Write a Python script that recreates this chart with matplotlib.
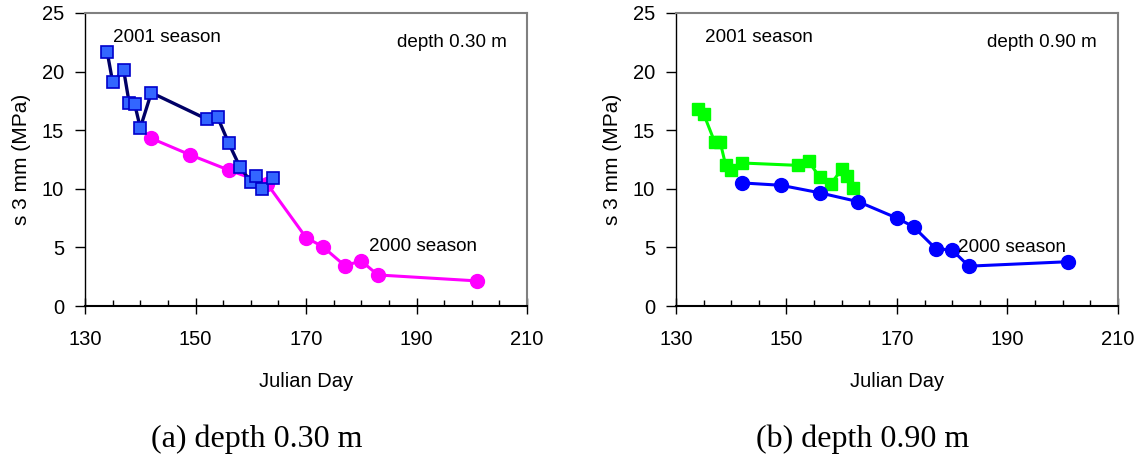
import matplotlib
matplotlib.use("Agg")
import matplotlib.pyplot as plt
from matplotlib.ticker import MultipleLocator

plt.rcParams['font.family'] = ['Liberation Sans', 'DejaVu Sans']

# depth 0.30 m
day_01_a = [134, 135, 137, 138, 139, 140, 142, 152, 154, 156, 158, 160, 161, 162, 164]
val_01_a = [21.7, 19.1, 20.1, 17.3, 17.2, 15.2, 18.2, 15.95, 16.1, 13.9, 11.9, 10.6, 11.1, 10.0, 10.9]
day_00_a = [142, 149, 156, 163, 170, 173, 177, 180, 183, 201]
val_00_a = [14.3, 12.9, 11.6, 10.4, 5.84, 5.07, 3.45, 3.84, 2.65, 2.14]

# depth 0.90 m
day_01_b = [134, 135, 137, 138, 139, 140, 142, 152, 154, 156, 158, 160, 161, 162]
val_01_b = [16.8, 16.4, 14.0, 14.0, 12.0, 11.6, 12.2, 12.0, 12.35, 11.0, 10.4, 11.65, 11.1, 10.1]
day_00_b = [142, 149, 156, 163, 170, 173, 177, 180, 183, 201]
val_00_b = [10.5, 10.3, 9.66, 8.9, 7.5, 6.76, 4.9, 4.77, 3.4, 3.78]

x_ticks = [130, 150, 170, 190, 210]

fig = plt.figure(figsize=(11.43, 4.57), dpi=100)
ax1 = fig.add_axes([0.0744, 0.3304, 0.3867, 0.6412])
ax2 = fig.add_axes([0.5914, 0.3304, 0.3867, 0.6412])


def style(ax):
    ax.set_xlim(130, 210)
    ax.set_ylim(0, 25)
    ax.set_xticks(x_ticks)
    ax.xaxis.set_minor_locator(MultipleLocator(5))
    ax.yaxis.set_major_locator(MultipleLocator(5))
    ax.tick_params(axis='x', which='major', direction='inout', length=11, width=1, labelsize=14.5, pad=12)
    ax.tick_params(axis='x', which='minor', direction='in', length=4, width=1)
    ax.tick_params(axis='y', which='major', direction='out', length=7, width=1, labelsize=14.5, pad=8)
    ax.spines['top'].set_color('#808080')
    ax.spines['right'].set_color('#808080')
    ax.spines['top'].set_linewidth(1.5)
    ax.spines['right'].set_linewidth(1.5)
    ax.spines['left'].set_linewidth(1)
    ax.spines['bottom'].set_linewidth(1.5)
    ax.set_xlabel('Julian Day', fontsize=14.5, labelpad=16)
    ax.set_ylabel('s 3 mm (MPa)', fontsize=15, labelpad=8)


# (a)
ax1.plot(day_00_a, val_00_a, color='#FF00FF', lw=2.2, marker='o', ms=10,
         markerfacecolor='#FF00FF', markeredgecolor='#FF00FF', clip_on=False)
ax1.plot(day_01_a, val_01_a, color='#000066', lw=2.4, marker='s', ms=8.5,
         markerfacecolor='#3366FF', markeredgecolor='#0000CC', markeredgewidth=1.2, clip_on=False)
style(ax1)
ax1.text(135.1, 22.9, '2001 season', fontsize=13.6, va='center')
ax1.text(186.5, 22.5, 'depth 0.30 m', fontsize=13.6, va='center')
ax1.text(181.4, 5.1, '2000 season', fontsize=13.6, va='center')

# (b)
ax2.plot(day_01_b, val_01_b, color='#00FF00', lw=2.2, marker='s', ms=9,
         markerfacecolor='#00FF00', markeredgecolor='#00FF00', clip_on=False)
ax2.plot(day_00_b, val_00_b, color='#0000FF', lw=2.2, marker='o', ms=10,
         markerfacecolor='#0000FF', markeredgecolor='#0000FF', clip_on=False)
style(ax2)
ax2.text(135.2, 22.9, '2001 season', fontsize=13.6, va='center')
ax2.text(186.3, 22.5, 'depth 0.90 m', fontsize=13.6, va='center')
ax2.text(181.0, 5.0, '2000 season', fontsize=13.6, va='center')

fig.text(0.2248, 1 - 447 / 457, '(a) depth 0.30 m', fontsize=23, family=['Liberation Serif'],
         ha='center', va='baseline')
fig.text(0.755, 1 - 447 / 457, '(b) depth 0.90 m', fontsize=23, family=['Liberation Serif'],
         ha='center', va='baseline')

fig.savefig('out.png', dpi=100)
